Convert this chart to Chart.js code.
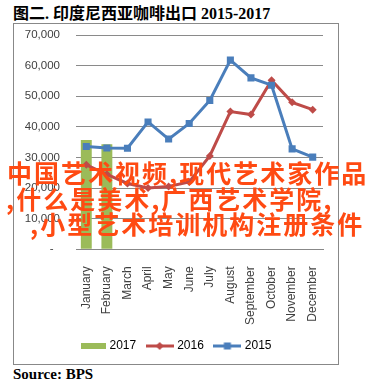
<!DOCTYPE html>
<html><head><meta charset="utf-8">
<script src="https://cdn.jsdelivr.net/npm/chart.js@4"></script>
<style>
body{margin:0;background:#fff;width:389px;height:388px;overflow:hidden;position:relative;}
#title{position:absolute;left:13px;top:0px;font:bold 16px "Liberation Serif","Noto Sans CJK SC";color:#000;white-space:nowrap;}
#box{position:absolute;left:13px;top:23px;width:324px;height:340px;border:1px solid #888;}
#c{display:block;}
#src{position:absolute;left:13px;top:366px;font:bold 15px "Liberation Serif";color:#000;white-space:nowrap;}
.wm{position:absolute;color:#ff4a12;font:bold 25px "Noto Sans CJK SC";letter-spacing:2px;line-height:26px;white-space:pre;}
</style></head>
<body>
<div id="title">图二. 印度尼西亚咖啡出口 2015-2017</div>
<div id="box"><canvas id="c" width="324" height="340"></canvas></div>
<div id="src">Source: BPS</div>
<div class="wm" style="left:7px;top:159px">中国艺术视频,现代艺术家作品</div>
<div class="wm" style="left:6px;top:185px">,什么是美术,广西艺术学院,</div>
<div class="wm" style="left:30px;top:210px">,小型艺术培训机构注册条件</div>
<script>
const months = ['January','February','March','April','May','June','July','August','September','October','November','December'];
const seriesNames = ['2017','2016','2015'];
const v2017 = [35700, 34300, null, null, null, null, null, null, null, null, null, null];
const v2016 = [27600, 24500, 21500, 20000, 20500, 22000, 30500, 45000, 44000, 55200, 48000, 45600];
const v2015 = [33600, 33100, 33000, 41600, 36000, 41100, 48600, 61800, 56000, 53600, 32800, 30100];
const yTicks = [0, 10000, 20000, 30000, 40000, 50000, 60000, 70000];

const GREEN = '#9BBB59', RED = '#BE4B48', BLUE = '#4A7EBB';

function legendIcon(kind, color){
  const cv = document.createElement('canvas');
  cv.width = 28; cv.height = 10;
  const g = cv.getContext('2d');
  if (kind === 'bar'){
    g.fillStyle = color; g.fillRect(3, 2, 25, 6);
  } else {
    g.strokeStyle = color; g.lineWidth = 3;
    g.beginPath(); g.moveTo(0,5); g.lineTo(28,5); g.stroke();
    g.fillStyle = color;
    if (kind === 'rect'){ g.fillRect(10.5,1.5,7,7); }
    else { g.beginPath(); g.moveTo(14,1); g.lineTo(18,5); g.lineTo(14,9); g.lineTo(10,5); g.closePath(); g.fill(); }
  }
  return cv;
}
const icons = [legendIcon('bar', GREEN), legendIcon('diamond', RED), legendIcon('rect', BLUE)];

new Chart(document.getElementById('c'), {
  type: 'bar',
  data: {
    labels: months,
    datasets: [
      {type:'bar', label: seriesNames[0], data: v2017, backgroundColor: GREEN, categoryPercentage: 1, barPercentage: 0.53, order: 3},
      {type:'line', label: seriesNames[1], data: v2016, borderColor: RED, backgroundColor: RED, borderWidth: 3,
       pointStyle: 'rectRot', pointRadius: 4, pointBorderWidth: 0, tension: 0, order: 2},
      {type:'line', label: seriesNames[2], data: v2015, borderColor: BLUE, backgroundColor: BLUE, borderWidth: 3,
       pointStyle: 'rect', pointRadius: 5, pointBorderWidth: 0, tension: 0, order: 1}
    ]
  },
  options: {
    responsive: false, animation: false, devicePixelRatio: 1,
    layout: {padding: {left: 0, right: 0, top: 0, bottom: 2}},
    plugins: {
      tooltip: {enabled: false},
      legend: {
        position: 'bottom',
        labels: {
          usePointStyle: true, pointStyleWidth: 23, padding: 12,
          color: '#404040', font: {family: 'Liberation Sans', size: 12},
          generateLabels: (chart) => chart.data.datasets.map((d, i) => ({
            text: d.label, pointStyle: icons[i], fillStyle: 'transparent', strokeStyle: 'transparent',
            lineWidth: 0, hidden: false, datasetIndex: i
          }))
        }
      }
    },
    scales: {
      x: {
        grid: {display: false},
        border: {display: true, color: '#888', width: 1},
        afterFit: (s) => { s.height -= 6; },
        ticks: {minRotation: 90, maxRotation: 90, padding: 9, color: '#404040', font: {family: 'Liberation Sans', size: 12}, autoSkip: false}
      },
      y: {
        min: 0, max: 70000,
        afterBuildTicks: (s) => { s.ticks = yTicks.map(v => ({value: v})); },
        afterFit: (s) => { s.width = 62; s.paddingTop = 11; s.paddingBottom = 7; },
        grid: {color: '#8a8a8a', lineWidth: 1, drawTicks: false},
        border: {display: false},
        ticks: {padding: 16, color: '#404040', font: {family: 'Liberation Sans', size: 11.5},
          callback: (v) => v === 0 ? '-  ' : v.toLocaleString('en-US')}
      },
      yR: {
        position: 'right', display: true,
        grid: {display: false, drawTicks: false}, border: {display: false},
        ticks: {display: false},
        afterFit: (s) => { s.width = 15; s.paddingTop = 0; s.paddingBottom = 0; }
      }
    }
  }
});
</script>
</body></html>
